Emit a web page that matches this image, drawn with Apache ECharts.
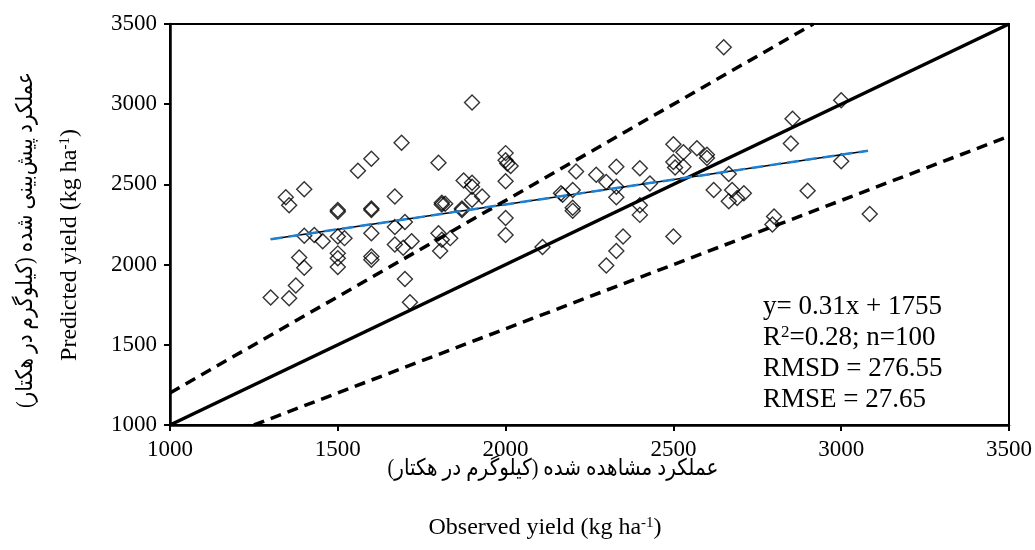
<!DOCTYPE html>
<html><head><meta charset="utf-8">
<script src="https://cdn.jsdelivr.net/npm/echarts@6/dist/echarts.min.js"></script>
<style>html,body{margin:0;padding:0;background:#fff}#c{width:1035px;height:550px}</style>
</head><body><div id="c"></div>
<script>
// Observed vs predicted yield (kg/ha)
const observed = [1300,1355,1375,1385,1400,1400,1430,1455,1345,1355,1400,1500,1500,1500,1520,1500,1500,1500,1560,1600,
  1600,1600,1600,1600,1600,1670,1670,1670,1690,1700,1695,1720,1700,1715,1800,1800,1805,1810,1820,1835,
  1870,1875,1900,1900,1900,1930,2000,2000,2005,2015,2000,2000,2000,2110,2165,2170,2200,2200,2200,2210,
  2270,2300,2300,2330,2330,2330,2350,2400,2400,2400,2430,2500,2500,2505,2500,2530,2530,2570,2600,2600,
  2620,2650,2665,2665,2675,2690,2710,2800,2795,2850,2855,2900,3000,3000,3085,2330,1900,1870,1810,1810];
const predicted = [1795,1790,1870,2045,1980,2180,2185,2145,2420,2370,2470,2340,2330,2175,2165,2070,2040,1985,2585,2660,
  2350,2340,2195,2050,2030,2425,2235,2125,2760,2265,2105,2145,1910,1765,2635,2195,2085,2385,2380,2165,
  2340,2525,3010,2510,2405,2425,2695,2650,2630,2615,2520,2290,2185,2110,2445,2435,2465,2355,2335,2580,
  2560,2515,1995,2610,2420,2085,2175,2600,2370,2310,2505,2750,2640,2605,2175,2700,2610,2725,2685,2665,
  2465,3355,2565,2395,2465,2415,2445,2300,2250,2755,2910,2460,3025,2645,2315,2485,2485,2350,2375,2155];
const oneToOne   = [[1000,1000],[3500,3500]];
const upperBound = [[1000,1200],[2917,3500]];
const lowerBound = [[1250,1000],[3500,2800]];
const trendLine  = [[1300,2158],[3080,2710]];
const axisMin = 1000, axisMax = 3500, axisStep = 500;
const statLines = [['y= 0.31x + 1755','',''], ['R','2','=0.28; n=100'], ['RMSD = 276.55','',''], ['RMSE = 27.65','','']];
const xTitleFa = 'عملکرد مشاهده شده (کیلوگرم در هکتار)\u200F';
const yTitleFa = 'عملکرد پیش\u200Cبینی شده (کیلوگرم در هکتار)\u200F';
const xTitleEn = ['Observed yield (kg ha', '-1', ')'];
const yTitleEn = ['Predicted yield (kg ha', '-1', ')'];

const serif = '"Liberation Serif", "Times New Roman", serif';
const faFont = '"Liberation Serif", "DejaVu Sans", sans-serif';
const points = observed.map((v, i) => [v, predicted[i]]);

function supRich(size) {
  return {
    t: { fontFamily: serif, fontSize: size, lineHeight: size, color: '#000', verticalAlign: 'middle' },
    s: { fontFamily: serif, fontSize: Math.round(size * 0.62), lineHeight: size, color: '#000', verticalAlign: 'top' }
  };
}
function supText(parts) {
  return '{t|' + parts[0] + '}' + (parts[1] ? '{s|' + parts[1] + '}' : '') + (parts[2] ? '{t|' + parts[2] + '}' : '');
}
function supStyle(parts, size, align) {
  return { text: supText(parts), rich: supRich(size), fontFamily: serif, fontSize: size, fill: '#000', align: align, verticalAlign: 'middle' };
}

const chart = echarts.init(document.getElementById('c'), null, { renderer: 'canvas' });
const axisCommon = {
  type: 'value', min: axisMin, max: axisMax, interval: axisStep,
  axisLine: { show: true, onZero: false, lineStyle: { color: '#000', width: 2.5 } },
  axisTick: { show: true, inside: false, length: 6, lineStyle: { color: '#000', width: 2 } },
  splitLine: { show: false },
  axisLabel: { color: '#000', fontFamily: serif, fontSize: 23, margin: 13, formatter: v => String(v) }
};
const sYStart = 307, sYStep = 31;
const graphics = statLines.map((ln, i) => ({
  type: 'text', x: 763, y: sYStart + i * sYStep, z: 100,
  style: supStyle(ln, 27, 'left')
}));
graphics.push(
  { type: 'text', x: 553, y: 469, scaleX: 0.87, z: 100, style: { text: xTitleFa, font: '23px ' + faFont, fill: '#000', align: 'center', verticalAlign: 'middle' } },
  { type: 'text', x: 545, y: 528, z: 100, style: supStyle(xTitleEn, 24, 'center') },
  { type: 'text', x: 26, y: 240, rotation: Math.PI / 2, scaleX: 0.87, z: 100, style: { text: yTitleFa, font: '23px ' + faFont, fill: '#000', align: 'center', verticalAlign: 'middle' } },
  { type: 'text', x: 70, y: 245, rotation: Math.PI / 2, z: 100, style: supStyle(yTitleEn, 24, 'center') }
);

const lineSeries = (data, style, z) => ({
  type: 'line', data, showSymbol: false, symbol: 'none', silent: true, clip: true, z,
  lineStyle: style, animation: false
});

chart.setOption({
  animation: false,
  backgroundColor: '#fff',
  grid: { left: 170, right: 26, top: 24, bottom: 125, show: true, borderColor: '#000', borderWidth: 2, backgroundColor: 'transparent' },
  xAxis: Object.assign({}, axisCommon),
  yAxis: Object.assign({}, axisCommon),
  graphic: graphics,
  series: [
    { type: 'scatter', data: points, symbol: 'diamond', symbolSize: 15, z: 2, silent: true,
      itemStyle: { color: 'rgba(0,0,0,0)', borderColor: '#000', borderWidth: 1.4 } },
    lineSeries(oneToOne, { color: '#000', width: 3.5, type: 'solid' }, 5),
    lineSeries(upperBound, { color: '#000', width: 3.5, type: [11, 7] }, 5),
    lineSeries(lowerBound, { color: '#000', width: 3.5, type: [11, 7] }, 5),
    lineSeries(trendLine, { color: '#000', width: 1.5, type: 'solid' }, 6),
    lineSeries(trendLine, { color: '#1f7fd0', width: 2.5, type: [12, 6] }, 7)
  ]
});
</script></body></html>
